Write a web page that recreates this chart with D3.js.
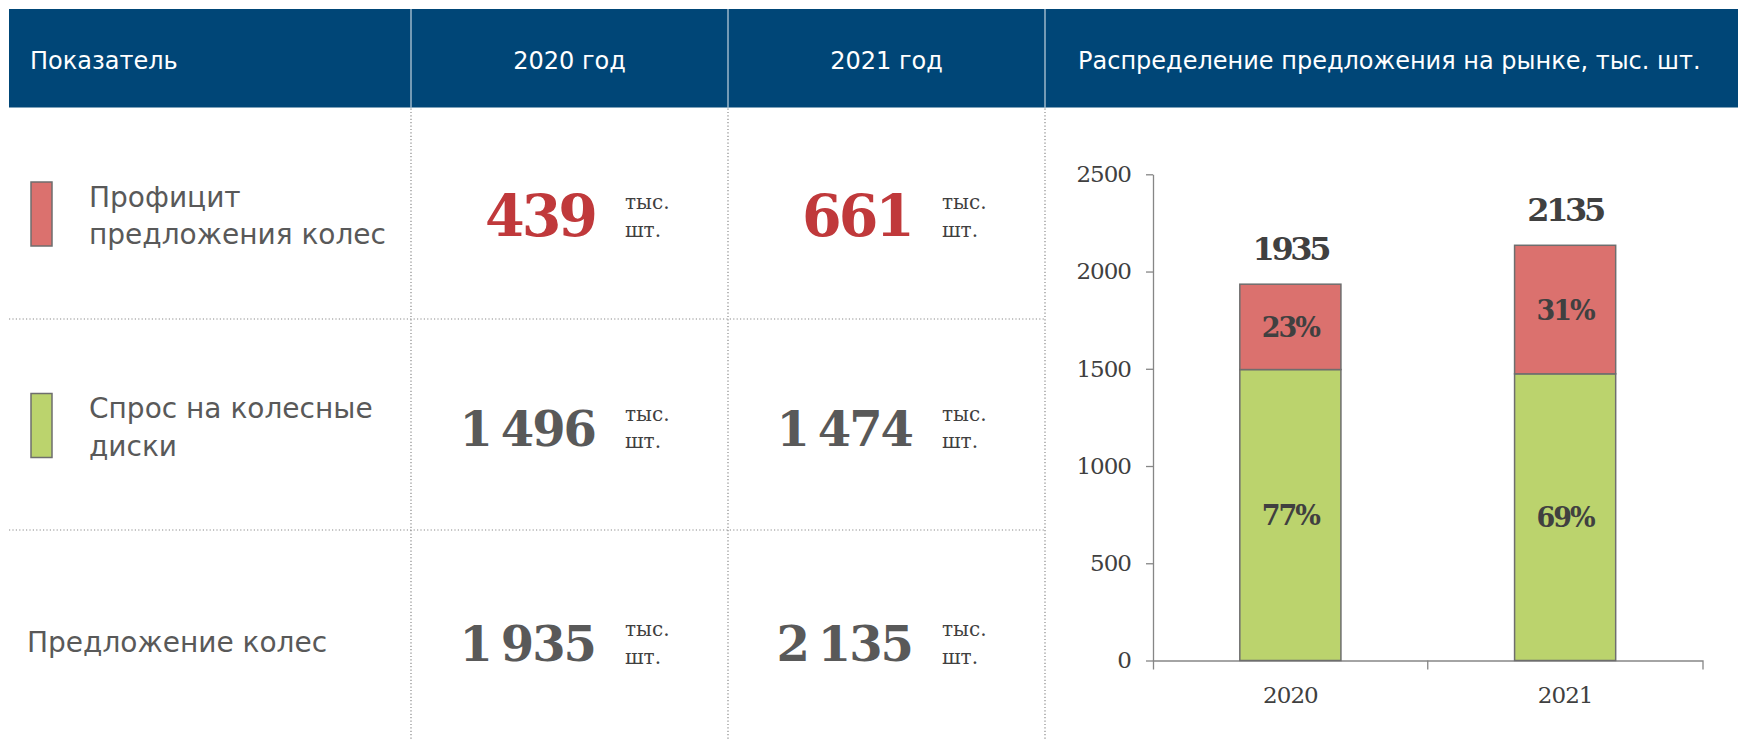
<!DOCTYPE html>
<html>
<head>
<meta charset="utf-8">
<script src="https://cdn.jsdelivr.net/npm/d3@7"></script>
<style>
  html, body { margin: 0; padding: 0; background: #ffffff; }
  svg { display: block; }
</style>
</head>
<body>
<svg id="chart" width="1738" height="739"></svg>
<script>
// ---------------- DATA ----------------
const headerLabels = ["Показатель", "2020 год", "2021 год", "Распределение предложения на рынке, тыс. шт."];
const rowLabels = [["Профицит", "предложения колес"], ["Спрос на колесные", "диски"], ["Предложение колес"]];
const years = ["2020", "2021"];
const surplus = [439, 661];        // Профицит предложения колес
const demand = [1496, 1474];       // Спрос на колесные диски
const supply = [1935, 2135];       // Предложение колес
const unitLines = ["тыс.", "шт."];
const yTicks = [0, 500, 1000, 1500, 2000, 2500];

// ---------------- STYLE / LAYOUT ----------------
const W = 1738, H = 739;
const HEADER_BG = "#004677";
const RED = "#DB716E", GREEN = "#BBD36D";
const VALUE_RED = "#C0393B", VALUE_GRAY = "#595959";
const LABEL_GRAY = "#595959", DARK = "#404040";
const SANS = "'DejaVu Sans', Verdana, sans-serif";
const SERIF = "'DejaVu Serif', Cambria, serif";

const headerTop = 9, headerBottom = 107.5, headerLeft = 9, headerRight = 1738;
const colEdges = [headerLeft, 411, 728, 1045, headerRight];
const rowEdges = [headerBottom, 319, 530, H];
const rowCenters = [214, 425.5, 641];

const svg = d3.select("#chart");
svg.append("rect").attr("width", W).attr("height", H).attr("fill", "#fff");

// ---------------- HEADER ----------------
svg.append("rect")
  .attr("x", headerLeft).attr("y", headerTop)
  .attr("width", headerRight - headerLeft).attr("height", headerBottom - headerTop)
  .attr("fill", HEADER_BG);

svg.selectAll("line.hdiv").data(colEdges.slice(1, 4)).enter().append("line")
  .attr("class", "hdiv")
  .attr("x1", d => d).attr("x2", d => d)
  .attr("y1", headerTop).attr("y2", headerBottom)
  .attr("stroke", "#e8eef3").attr("stroke-width", 1);

const headerPos = [
  { x: 30, anchor: "start" },
  { x: (colEdges[1] + colEdges[2]) / 2, anchor: "middle" },
  { x: (colEdges[2] + colEdges[3]) / 2, anchor: "middle" },
  { x: 1078, anchor: "start" }
];
svg.selectAll("text.hdr").data(headerLabels).enter().append("text")
  .attr("class", "hdr")
  .attr("x", (d, i) => headerPos[i].x)
  .attr("y", 69)
  .attr("text-anchor", (d, i) => headerPos[i].anchor)
  .attr("font-family", SANS).attr("font-size", 24)
  .attr("fill", "#ffffff")
  .text(d => d);

// ---------------- GRID (dotted) ----------------
const dotted = { stroke: "#8a8a8a", dash: "1.2,2.2", width: 1.2 };
svg.selectAll("line.rowdiv").data(rowEdges.slice(1, 3)).enter().append("line")
  .attr("x1", headerLeft).attr("x2", colEdges[3])
  .attr("y1", d => d).attr("y2", d => d)
  .attr("stroke", dotted.stroke).attr("stroke-width", dotted.width)
  .attr("stroke-dasharray", dotted.dash);
svg.selectAll("line.coldiv").data(colEdges.slice(1, 4)).enter().append("line")
  .attr("x1", d => d).attr("x2", d => d)
  .attr("y1", headerBottom + 1).attr("y2", H)
  .attr("stroke", dotted.stroke).attr("stroke-width", dotted.width)
  .attr("stroke-dasharray", dotted.dash);

// ---------------- TABLE ROWS ----------------
const swatchColors = [RED, GREEN, null];
const tableValues = [surplus, demand, supply];
const fmt = v => d3.format(",")(v).replace(/,/g, "\u2005");

rowLabels.forEach((lines, r) => {
  const c = rowCenters[r];
  if (swatchColors[r]) {
    svg.append("rect")
      .attr("x", 31).attr("y", c - 32).attr("width", 21).attr("height", 64)
      .attr("fill", swatchColors[r]).attr("stroke", "#6e6e6e").attr("stroke-width", 1.5);
  }
  const lx = swatchColors[r] ? 89 : 27;
  const t = svg.append("text")
    .attr("font-family", SANS).attr("font-size", 28).attr("fill", LABEL_GRAY);
  lines.forEach((ln, k) => {
    const by = lines.length === 2 ? (k === 0 ? c - 7.5 : c + 30) : c + 10.5;
    t.append("tspan").attr("x", lx).attr("y", by).text(ln);
  });

  // values for each year column
  const big = r === 0;
  years.forEach((yr, j) => {
    const colStart = colEdges[j + 1];
    svg.append("text")
      .attr("x", colStart + 184).attr("y", c + (big ? 21.5 : 20))
      .attr("text-anchor", "end")
      .attr("font-family", SERIF).attr("font-weight", "bold")
      .attr("font-size", big ? 57 : 48).attr("letter-spacing", big ? -3 : -2)
      .attr("fill", big ? VALUE_RED : VALUE_GRAY)
      .text(fmt(tableValues[r][j]));
    unitLines.forEach((u, k) => {
      svg.append("text")
        .attr("x", colStart + 214).attr("y", k === 0 ? c - 5 : c + 22.5)
        .attr("font-family", SERIF).attr("font-size", 20)
        .attr("fill", DARK)
        .text(u);
    });
  });
});

// ---------------- CHART ----------------
const y = d3.scaleLinear().domain([0, 2500]).range([660.5, 174.3]);
const x = d3.scaleBand().domain(years).range([1153, 1702.5]).paddingInner(0).paddingOuter(0);
const barW = x.bandwidth() * 0.368;

const gY = svg.append("g").attr("transform", `translate(${x.range()[0]},0)`)
  .call(d3.axisLeft(y).tickValues(yTicks).tickSize(7).tickSizeOuter(0).tickPadding(15).tickFormat(d3.format("d")));
gY.select(".domain").attr("stroke", "#868686").attr("stroke-width", 1.3);
gY.selectAll(".tick line").attr("stroke", "#868686").attr("stroke-width", 1.3);
gY.selectAll(".tick text").attr("font-family", SERIF).attr("font-size", 23)
  .attr("fill", DARK).attr("letter-spacing", -1);

const gX = svg.append("g").attr("transform", `translate(0,${y(0)})`)
  .call(d3.axisBottom(x).tickSize(0).tickSizeOuter(9).tickPadding(42));
gX.select(".domain").attr("stroke", "#868686").attr("stroke-width", 1.3);
gX.selectAll(".tick text").attr("font-family", SERIF).attr("font-size", 23)
  .attr("fill", DARK).attr("letter-spacing", -1).attr("dy", "0");
gX.selectAll("line.bound").data(years.slice(1)).enter().append("line")
  .attr("class", "bound")
  .attr("x1", d => x(d)).attr("x2", d => x(d))
  .attr("y1", 0).attr("y2", 9)
  .attr("stroke", "#868686").attr("stroke-width", 1.3);

const stackData = years.map((yr, i) => ({ year: yr, demand: demand[i], surplus: surplus[i], total: supply[i] }));
const series = d3.stack().keys(["demand", "surplus"])(stackData);
const colorOf = { demand: GREEN, surplus: RED };

const layers = svg.append("g").selectAll("g").data(series).enter().append("g")
  .attr("fill", d => colorOf[d.key]);
layers.selectAll("rect").data(d => d).enter().append("rect")
  .attr("x", d => x(d.data.year) + (x.bandwidth() - barW) / 2)
  .attr("width", barW)
  .attr("y", d => y(d[1]))
  .attr("height", d => y(d[0]) - y(d[1]))
  .attr("stroke", "#6e6e6e").attr("stroke-width", 1.5);

// percentage labels
series.forEach(s => {
  svg.append("g").selectAll("text").data(s).enter().append("text")
    .attr("x", d => x(d.data.year) + x.bandwidth() / 2)
    .attr("y", d => (y(d[0]) + y(d[1])) / 2 + 10)
    .attr("text-anchor", "middle")
    .attr("font-family", SERIF).attr("font-weight", "bold").attr("font-size", 27)
    .attr("letter-spacing", -2)
    .attr("fill", DARK)
    .text(d => Math.round((d[1] - d[0]) / d.data.total * 100) + "%");
});

// totals
svg.append("g").selectAll("text").data(stackData).enter().append("text")
  .attr("x", d => x(d.year) + x.bandwidth() / 2)
  .attr("y", d => y(d.total) - 24)
  .attr("text-anchor", "middle")
  .attr("font-family", SERIF).attr("font-weight", "bold").attr("font-size", 32)
  .attr("letter-spacing", -3.3)
  .attr("fill", DARK)
  .text(d => d.total);
</script>
</body>
</html>
